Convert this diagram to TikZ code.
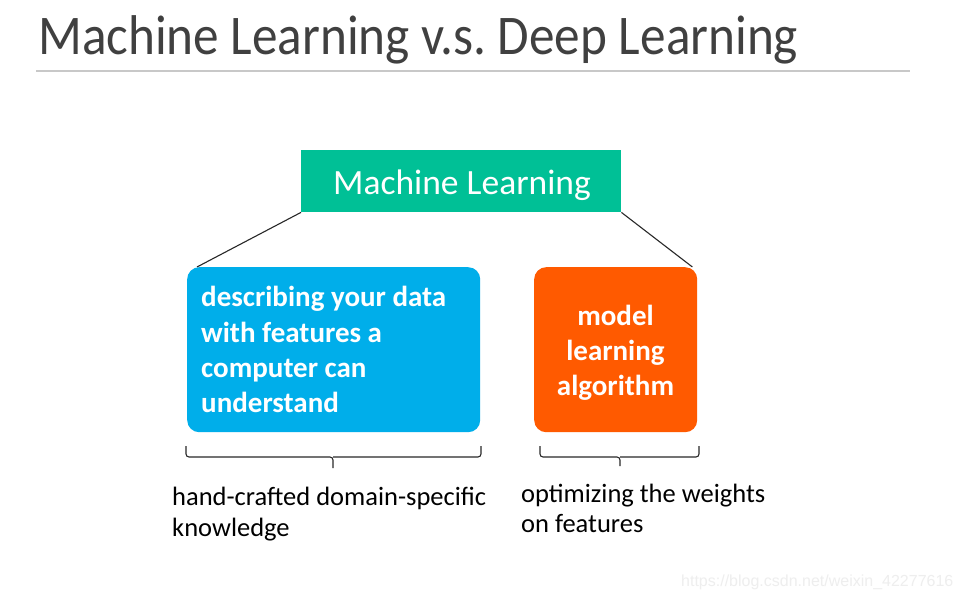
\documentclass[tikz,border=0pt]{standalone}
\usepackage{fontspec}
\setmainfont{Carlito}
\newfontfamily\titlefont[FakeStretch=0.915]{Carlito}
\newfontfamily\wmfont{Liberation Sans}
\usetikzlibrary{calc}
\definecolor{titlegray}{RGB}{64,64,64}
\definecolor{rulegray}{RGB}{200,200,200}
\definecolor{mlgreen}{RGB}{0,192,150}
\definecolor{mlblue}{RGB}{0,174,234}
\definecolor{mlorange}{RGB}{255,90,0}
\definecolor{linegray}{RGB}{40,40,40}
\definecolor{wmgray}{RGB}{238,238,238}
\begin{document}
\frenchspacing
\begin{tikzpicture}[x=1pt,y=-1pt,
  boxstyle/.style={anchor=north west, inner sep=0, draw=none},
  boxtext/.style={text=white, inner sep=0, font=\fontsize{29}{35}\selectfont\bfseries},
  notetext/.style={anchor=base west, inner sep=0, text=black, font=\fontsize{26.5}{32}\selectfont},
  connector/.style={draw=linegray, line width=1.1pt},
  bracestyle/.style={draw=linegray, line width=1.1pt, rounded corners=3pt}]
\fill[white] (0,0) rectangle (962,599);
\useasboundingbox (0,0) rectangle (962,599);
% title
\node[anchor=base west, inner sep=0, text=titlegray, font=\titlefont\fontsize{56}{60}\selectfont] (title) at (38,55) {Machine Learning v.s. Deep Learning};
\coordinate (ruleL) at (36,71);
\coordinate (ruleR) at (910,71);
\draw[rulegray, line width=1.5pt] (ruleL) -- (ruleR);
% boxes
\node[boxstyle, fill=mlgreen, minimum width=320, minimum height=62] (ml) at (301,150) {};
\node[anchor=base, inner sep=0, text=white, font=\fontsize{35.5}{40}\selectfont] (mltext) at (462,195) {Machine Learning};
\node[boxstyle, fill=mlblue, minimum width=293, minimum height=165, rounded corners=12pt] (feat) at (187,267) {};
\node[boxtext, anchor=base west] (f1) at (201,306) {describing your data};
\node[boxtext, anchor=base west] (f2) at (201,342) {with features a};
\node[boxtext, anchor=base west] (f3) at (201,377) {computer can};
\node[boxtext, anchor=base west] (f4) at (201,412.5) {understand};
\node[boxstyle, fill=mlorange, minimum width=163, minimum height=165, rounded corners=12pt] (algo) at (534,267) {};
\node[boxtext, anchor=base] (a1) at (615.5,325) {model};
\node[boxtext, anchor=base] (a2) at (615.5,360) {learning};
\node[boxtext, anchor=base] (a3) at (615.5,395) {algorithm};
% connectors
\draw[connector] (ml.south west) -- ($(feat.north west)+(10,0)$);
\draw[connector] (ml.south east) -- ($(algo.north east)+(-5,0)$);
% braces
\coordinate (b1L) at (186,446);
\coordinate (b1R) at (481,446);
\coordinate (b1M) at (333,457);
\coordinate (b1T) at (333,468);
\draw[bracestyle] (b1L) |- (b1M) -- (b1T);
\draw[bracestyle] (b1R) |- (b1M);
\coordinate (b2L) at (540,446);
\coordinate (b2R) at (699,446);
\coordinate (b2M) at (620,457);
\coordinate (b2T) at (620,466);
\draw[bracestyle] (b2L) |- (b2M) -- (b2T);
\draw[bracestyle] (b2R) |- (b2M);
% notes
\node[notetext] (n1) at (172,505) {hand-crafted domain-specific};
\node[notetext] (n2) at (172,536) {knowledge};
\node[notetext] (n3) at (521,502) {optimizing the weights};
\node[notetext] (n4) at (521,532) {on features};
% watermark
\node[anchor=base west, inner sep=0, text=wmgray, font=\wmfont\fontsize{16}{18}\selectfont] (wm) at (681,586) {https://blog.csdn.net/weixin\_42277616};
\end{tikzpicture}
\end{document}
